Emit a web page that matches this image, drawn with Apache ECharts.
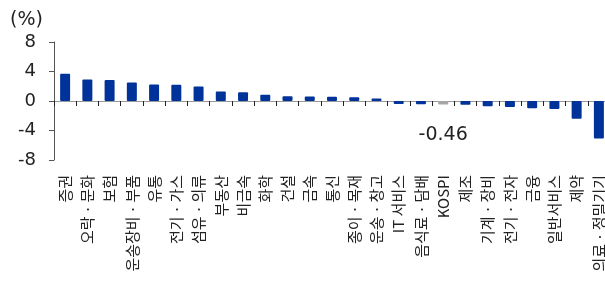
<!DOCTYPE html>
<html>
<head>
<meta charset="utf-8">
<script src="https://cdn.jsdelivr.net/npm/echarts@6/dist/echarts.min.js"></script>
<style>
  html, body { margin: 0; padding: 0; background: #fff; }
  #main { width: 605px; height: 286px; }
</style>
</head>
<body>
<div id="main"></div>
<script type="text/javascript">
var categories = ['증권', '오락ㆍ문화', '보험', '운송장비ㆍ부품', '유통', '전기ㆍ가스', '섬유ㆍ의류', '부동산', '비금속', '화학',
    '건설', '금속', '통신', '종이ㆍ목재', '운송ㆍ창고', 'IT 서비스', '음식료ㆍ담배', 'KOSPI', '제조', '기계ㆍ장비',
    '전기ㆍ전자', '금융', '일반서비스', '제약', '의료ㆍ정밀기기'];
var values = [3.7, 2.9, 2.85, 2.5, 2.25, 2.2, 1.95, 1.3, 1.2, 0.85,
    0.65, 0.62, 0.58, 0.5, 0.35, -0.42, -0.45, -0.46, -0.52, -0.7,
    -0.83, -0.97, -1.1, -2.4, -5.1];
var highlight = 'KOSPI';
var yMin = -8, yMax = 8, yStep = 4;

var barData = values.map(function (v, i) {
    var isKospi = categories[i] === highlight;
    return {
        value: v,
        itemStyle: { color: isKospi ? '#a6a6a6' : '#003399' },
        label: {
            show: isKospi,
            position: 'bottom',
            distance: 21,
            formatter: function (p) { return p.value.toFixed(2); },
            fontFamily: 'DejaVu Sans',
            fontSize: 19,
            color: '#222'
        }
    };
});

var myChart = echarts.init(document.getElementById('main'));
var option = {
    animation: false,
    title: {
        text: '(%)',
        left: 5,
        top: 6,
        textStyle: { fontFamily: 'DejaVu Sans', fontSize: 19, fontWeight: 'normal', color: '#222' }
    },
    grid: { left: 54, right: -5, top: 42, bottom: 126, containLabel: false, outerBoundsMode: 'none' },
    xAxis: {
        type: 'category',
        data: categories,
        axisLine: { onZero: true, lineStyle: { color: '#999', width: 1 } },
        axisTick: { show: true, length: 5, lineStyle: { color: '#222' } },
        axisLabel: {
            rotate: 90,
            interval: 0,
            margin: 15,
            hideOverlap: false,
            fontFamily: 'Noto Sans CJK KR',
            fontSize: 15,
            color: '#222'
        }
    },
    yAxis: {
        type: 'value',
        min: yMin,
        max: yMax,
        interval: yStep,
        splitLine: { show: false },
        axisLine: { show: true, lineStyle: { color: '#555' } },
        axisTick: { show: true, length: 5, lineStyle: { color: '#555' } },
        axisLabel: { margin: 18, fontFamily: 'DejaVu Sans', fontSize: 18, color: '#222' }
    },
    series: [{
        type: 'bar',
        barWidth: 10,
        data: barData,
        itemStyle: { borderRadius: 1 }
    }]
};
myChart.setOption(option);
</script>
</body>
</html>
